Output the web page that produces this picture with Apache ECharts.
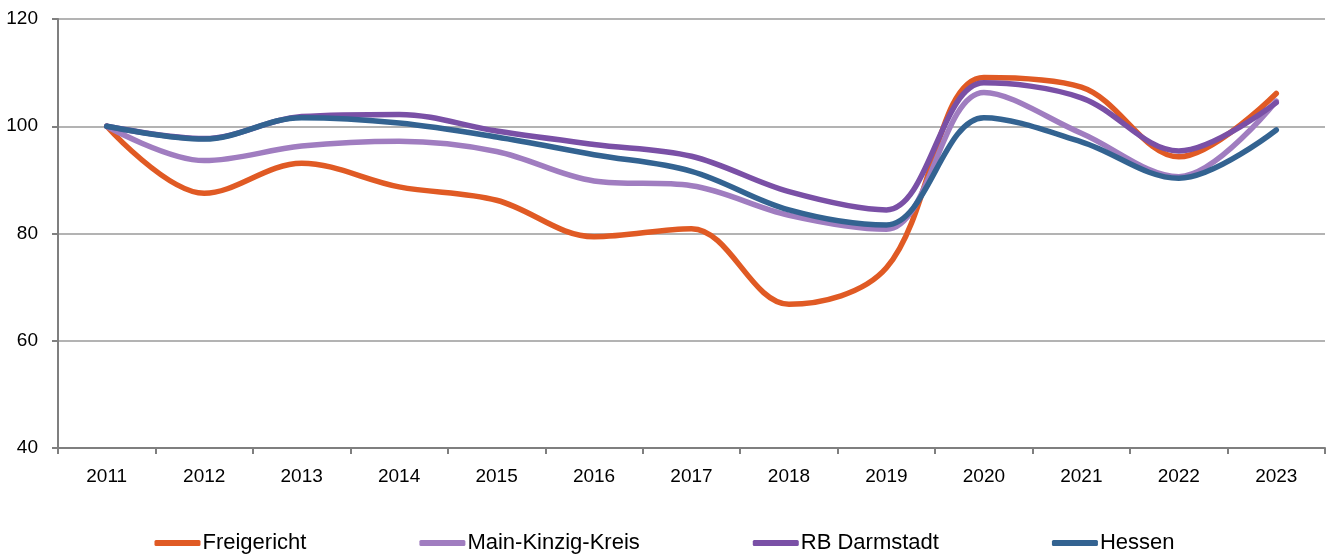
<!DOCTYPE html>
<html><head><meta charset="utf-8">
<script src="https://cdn.jsdelivr.net/npm/echarts@6/dist/echarts.min.js"></script>
<style>html,body{margin:0;padding:0;background:#fff}#c{width:1329px;height:556px}</style>
</head><body><div id="c"></div>
<script>
const years = ['2011','2012','2013','2014','2015','2016','2017','2018','2019','2020','2021','2022','2023'];
const freigericht = [100, 87.5, 93.1, 88.7, 86.2, 79.4, 80.9, 66.8, 73.6, 109.1, 107.3, 94.3, 106.1];
const mainKinzig = [100, 93.6, 96.3, 97.2, 95.3, 89.8, 88.9, 83.4, 80.8, 106.3, 98.7, 90.6, 104.7];
const rbDarmstadt = [100, 97.7, 101.8, 102.2, 99.1, 96.6, 94.4, 87.8, 84.4, 108.1, 105.3, 95.4, 104.4];
const hessen = [100, 97.6, 101.6, 100.6, 98.0, 94.7, 91.6, 84.4, 81.6, 101.6, 97.1, 90.3, 99.3];
const yTicks = [40, 60, 80, 100, 120];

const font = '"Liberation Sans", Arial, sans-serif';
const mk = (name, data, color) => ({
  name, type: 'line', data, smooth: 0.35, symbol: 'none',
  lineStyle: { color, width: 5.5, cap: 'round', join: 'round' },
  itemStyle: { color }
});
const chart = echarts.init(document.getElementById('c'), null, { renderer: 'canvas' });
chart.setOption({
  animation: false,
  backgroundColor: '#fff',
  grid: { left: 58, right: 4, top: 19, bottom: 108, containLabel: false },
  legend: {
    top: 527, left: 'center', itemGap: 113, itemWidth: 46, itemHeight: 6, icon: 'roundRect',
    textStyle: { fontFamily: font, fontSize: 22, color: '#000', padding: [0,0,0,-3] },
    data: ['Freigericht','Main-Kinzig-Kreis','RB Darmstadt','Hessen']
  },
  xAxis: {
    type: 'category', data: years, boundaryGap: true,
    axisLine: { lineStyle: { color: '#7f7f7f', width: 2 } },
    axisTick: { show: true, length: 6, lineStyle: { color: '#7f7f7f', width: 2 } },
    axisLabel: { fontFamily: font, fontSize: 19, color: '#000', margin: 19 }
  },
  yAxis: {
    type: 'value', min: yTicks[0], max: yTicks[yTicks.length-1], interval: 20,
    axisLine: { show: true, lineStyle: { color: '#7f7f7f', width: 2 } },
    axisTick: { show: true, length: 6, lineStyle: { color: '#7f7f7f', width: 2 } },
    splitLine: { lineStyle: { color: '#b3b3b3', width: 2 } },
    axisLabel: { fontFamily: font, fontSize: 19, color: '#000', margin: 20 }
  },
  series: [
    mk('Freigericht', freigericht, '#E05A24'),
    mk('Main-Kinzig-Kreis', mainKinzig, '#A07DC0'),
    mk('RB Darmstadt', rbDarmstadt, '#7A50A6'),
    mk('Hessen', hessen, '#336391')
  ]
});
</script></body></html>
